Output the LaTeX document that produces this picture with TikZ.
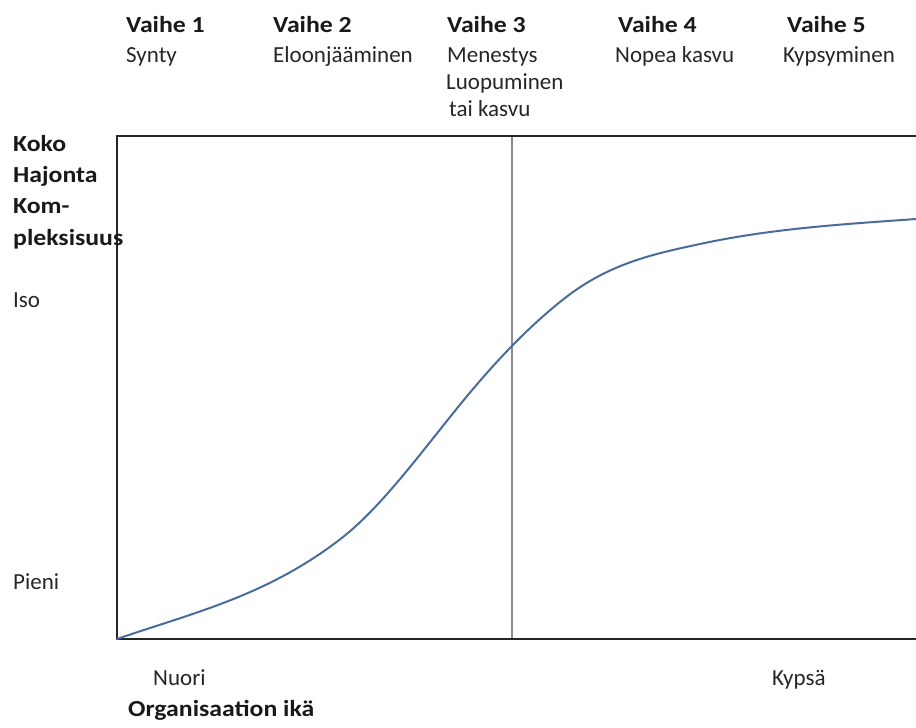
\documentclass[tikz,border=0pt]{standalone}
\usepackage{fontspec}
\setmainfont{Carlito}
\newfontfamily\hdrfont[FakeStretch=1.12]{Carlito}
\begin{document}
\begin{tikzpicture}[x=1pt,y=-1pt,
  lbl/.style={anchor=base west,inner sep=0pt,font=\fontsize{23}{27}\selectfont,text=black!85},
  hdr/.style={anchor=base west,inner sep=0pt,font=\hdrfont\fontsize{23}{27}\selectfont\bfseries,text=black!90},
  frame/.style={line width=2.4pt,draw=black!85},
  curve/.style={line width=2pt,draw=curveblue,line cap=round},
  divider/.style={line width=1.2pt,draw=black!45}]
\definecolor{curveblue}{HTML}{4A6C9B}
\useasboundingbox (0,0) rectangle (916,728);
% axes
\coordinate (tl) at (117,136);
\coordinate (o) at (117,639);
\coordinate (tr) at (916,136);
\coordinate (br) at (916,639);
\coordinate (vt) at (512,136);
\coordinate (vb) at (512,639);
\draw[divider] (vt) -- (vb);
\draw[frame] (tr) -- (tl) -- (o) -- (br);
% curve
\coordinate (p1) at (343,537);
\coordinate (p2) at (463,401);
\coordinate (p3) at (565,298);
\coordinate (p4) at (700,244);
\coordinate (p5) at (916,219);
\draw[curve] (o) .. controls (192,613) and (268,596) .. (p1)
  .. controls (383,505.4) and (423,449.8) .. (p2)
  .. controls (497,359.5) and (531,324.5) .. (p3)
  .. controls (610,262.9) and (655,253.7) .. (p4)
  .. controls (772,228.4) and (844,224.2) .. (p5);
% header
\node[hdr] (v1) at (126,32) {Vaihe 1};
\node[lbl] (s1) at (126,62) {Synty};
\node[hdr] (v2) at (273,32) {Vaihe 2};
\node[lbl] (s2) at (273,62) {Eloonjääminen};
\node[hdr] (v3) at (447,32) {Vaihe 3};
\node[lbl] (s3a) at (447,62) {Menestys};
\node[lbl] (s3b) at (446,89) {Luopuminen};
\node[lbl] (s3c) at (449,116) {tai kasvu};
\node[hdr] (v4) at (618,32) {Vaihe 4};
\node[lbl] (s4) at (615,62) {Nopea kasvu};
\node[hdr] (v5) at (787,32) {Vaihe 5};
\node[lbl] (s5) at (783,62) {Kypsyminen};
% y labels
\node[hdr] (ya) at (13,151) {Koko};
\node[hdr] (yb) at (13,182) {Hajonta};
\node[hdr] (yc) at (13,213) {Kom-};
\node[hdr] (yd) at (13,245) {pleksisuus};
\node[lbl] (iso) at (13,307) {Iso};
\node[lbl] (pieni) at (13,589) {Pieni};
% x labels
\node[lbl] (nuori) at (153,685) {Nuori};
\node[lbl] (kypsa) at (772,685) {Kypsä};
\node[hdr] (xlab) at (128,716) {Organisaation ikä};
\end{tikzpicture}
\end{document}
